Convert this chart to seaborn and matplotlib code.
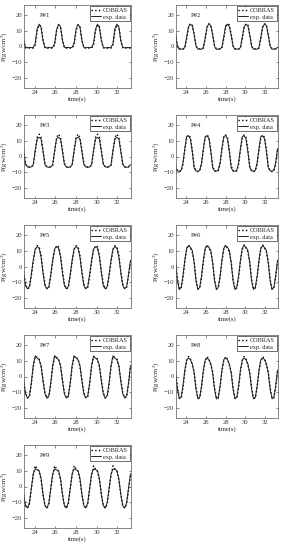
import matplotlib
matplotlib.use("Agg")
import matplotlib.pyplot as plt
import seaborn as sns

sns.set_theme(style="ticks")
plt.rcParams['font.family'] = ['Liberation Serif', 'DejaVu Serif']
plt.rcParams['mathtext.fontset'] = 'stix'

time_s = [22.91, 23.10, 23.29, 23.48, 23.66, 23.85, 24.04, 24.23, 24.42, 24.61,
          24.80, 24.99, 25.18, 25.37, 25.55, 25.74, 25.93, 26.12, 26.31, 26.50,
          26.69, 26.88, 27.07, 27.26, 27.44, 27.63, 27.82, 28.01, 28.20, 28.39,
          28.58, 28.77, 28.96, 29.15, 29.33, 29.52, 29.71, 29.90, 30.09, 30.28,
          30.47, 30.66, 30.85, 31.04, 31.22, 31.41, 31.60, 31.79, 31.98, 32.17,
          32.36, 32.55, 32.74, 32.93, 33.11, 33.30]

panel_names = ["P#1", "P#2", "P#3", "P#4", "P#5", "P#6", "P#7", "P#8", "P#9"]

p1_exp = [3.5, -0.5, -0.8, -0.5, -0.7, -0.6, 2.0, 11.0, 14.0, 12.0,
          3.5, -0.6, -0.9, -0.5, -0.8, -0.5, 1.8, 10.5, 14.0, 12.5,
          3.8, -0.5, -0.7, -0.6, -0.8, -0.5, 2.2, 11.0, 13.8, 12.2,
          3.5, -0.6, -0.8, -0.5, -0.7, -0.6, 2.0, 10.8, 14.0, 12.0,
          3.6, -0.5, -0.9, -0.6, -0.7, -0.5, 1.9, 11.2, 14.0, 12.3,
          3.5, -0.6, -0.8, -0.5, -0.7, -0.6]
p1_cob = [4.0, -0.8, -1.0, -1.0, -1.0, -1.0, 1.0, 10.0, 13.5, 12.5,
          4.0, -0.8, -1.0, -1.0, -1.0, -1.0, 1.0, 10.0, 13.5, 12.5,
          4.0, -0.8, -1.0, -1.0, -1.0, -1.0, 1.0, 10.0, 13.5, 12.5,
          4.0, -0.8, -1.0, -1.0, -1.0, -1.0, 1.0, 10.0, 13.5, 12.5,
          4.0, -0.8, -1.0, -1.0, -1.0, -1.0, 1.0, 10.0, 13.5, 12.5,
          4.0, -0.8, -1.0, -1.0, -1.0, -1.0]

p2_exp = [7.0, 0.0, -1.8, -1.5, -1.8, -0.5, 6.0, 12.5, 14.0, 13.0,
          7.5, 0.2, -1.7, -1.4, -1.9, -0.6, 5.5, 12.5, 14.2, 13.0,
          7.0, 0.0, -1.8, -1.6, -1.7, -0.4, 6.0, 13.0, 14.0, 12.5,
          7.0, 0.1, -1.8, -1.5, -1.8, -0.6, 6.0, 12.5, 14.0, 13.0,
          7.2, 0.0, -1.7, -1.5, -1.8, -0.5, 5.8, 12.5, 14.0, 13.0,
          7.0, 0.2, -1.8, -1.5, -1.7, -0.5]
p2_cob = [7.5, 0.5, -1.5, -1.5, -1.5, -1.0, 5.0, 12.0, 14.2, 13.5,
          7.5, 0.5, -1.5, -1.5, -1.5, -1.0, 5.0, 12.0, 14.2, 13.5,
          7.5, 0.5, -1.5, -1.5, -1.5, -1.0, 5.0, 12.0, 14.2, 13.5,
          7.5, 0.5, -1.5, -1.5, -1.5, -1.0, 5.0, 12.0, 14.2, 13.5,
          7.5, 0.5, -1.5, -1.5, -1.5, -1.0, 5.0, 12.0, 14.2, 13.5,
          7.5, 0.5, -1.5, -1.5, -1.5, -1.0]

p3_exp = [3.0, -5.0, -6.5, -6.8, -6.5, -5.0, 4.0, 11.0, 12.0, 11.0,
          3.0, -5.2, -6.6, -6.8, -6.6, -5.0, 4.0, 11.2, 12.0, 11.0,
          3.2, -5.0, -6.5, -6.9, -6.5, -5.1, 3.8, 11.0, 12.2, 10.8,
          3.0, -5.1, -6.6, -6.8, -6.6, -5.0, 4.0, 11.0, 12.0, 11.0,
          3.0, -5.0, -6.5, -6.8, -6.5, -5.0, 4.1, 11.1, 12.0, 11.0,
          3.0, -5.0, -6.6, -6.8, -6.5, -5.0]
p3_cob = [4.0, -4.5, -6.5, -6.5, -6.5, -5.5, 3.0, 12.0, 14.0, 12.0,
          4.0, -4.5, -6.5, -6.5, -6.5, -5.5, 3.0, 12.0, 14.0, 12.0,
          4.0, -4.5, -6.5, -6.5, -6.5, -5.5, 3.0, 12.0, 14.0, 12.0,
          4.0, -4.5, -6.5, -6.5, -6.5, -5.5, 3.0, 12.0, 14.0, 12.0,
          4.0, -4.5, -6.5, -6.5, -6.5, -5.5, 3.0, 12.0, 14.0, 12.0,
          4.0, -4.5, -6.5, -6.5, -6.5, -5.5]

p4_exp = [-7.0, -9.0, -9.2, -8.5, -4.0, 5.0, 12.5, 13.0, 11.0, 3.0,
          -7.2, -9.1, -9.3, -8.6, -4.2, 5.0, 12.6, 13.0, 11.2, 3.0,
          -7.0, -9.0, -9.2, -8.5, -4.0, 5.2, 12.5, 13.1, 11.0, 2.8,
          -7.1, -9.0, -9.3, -8.5, -4.1, 5.0, 12.5, 13.0, 11.0, 3.0,
          -7.0, -9.1, -9.2, -8.6, -4.0, 4.9, 12.4, 13.0, 11.1, 3.1,
          -7.0, -9.0, -9.2, -8.5, -4.0, 5.0]
p4_cob = [-6.0, -9.0, -9.5, -9.0, -5.0, 4.0, 12.0, 13.5, 12.0, 4.0,
          -6.0, -9.0, -9.5, -9.0, -5.0, 4.0, 12.0, 13.5, 12.0, 4.0,
          -6.0, -9.0, -9.5, -9.0, -5.0, 4.0, 12.0, 13.5, 12.0, 4.0,
          -6.0, -9.0, -9.5, -9.0, -5.0, 4.0, 12.0, 13.5, 12.0, 4.0,
          -6.0, -9.0, -9.5, -9.0, -5.0, 4.0, 12.0, 13.5, 12.0, 4.0,
          -6.0, -9.0, -9.5, -9.0, -5.0, 4.0]

p5_exp = [-4.0, -12.0, -14.0, -12.5, -5.0, 4.0, 11.0, 12.5, 11.5, 6.0,
          -4.2, -12.1, -14.1, -12.4, -5.0, 4.2, 11.0, 12.6, 11.4, 6.0,
          -4.0, -12.0, -14.0, -12.5, -5.1, 4.0, 11.1, 12.5, 11.5, 5.8,
          -4.1, -12.0, -14.0, -12.5, -5.0, 4.0, 11.0, 12.4, 11.5, 6.0,
          -4.0, -12.1, -14.0, -12.6, -5.0, 4.1, 11.0, 12.5, 11.4, 6.1,
          -4.0, -12.0, -14.0, -12.5, -5.0, 4.0]
p5_cob = [-3.0, -11.0, -14.0, -13.0, -6.0, 3.0, 10.5, 13.0, 12.5, 7.0,
          -3.0, -11.0, -14.0, -13.0, -6.0, 3.0, 10.5, 13.0, 12.5, 7.0,
          -3.0, -11.0, -14.0, -13.0, -6.0, 3.0, 10.5, 13.0, 12.5, 7.0,
          -3.0, -11.0, -14.0, -13.0, -6.0, 3.0, 10.5, 13.0, 12.5, 7.0,
          -3.0, -11.0, -14.0, -13.0, -6.0, 3.0, 10.5, 13.0, 12.5, 7.0,
          -3.0, -11.0, -14.0, -13.0, -6.0, 3.0]

p6_exp = [2.0, -9.0, -14.5, -13.0, -6.0, 4.0, 11.5, 13.0, 12.0, 10.0,
          2.2, -9.1, -14.4, -13.1, -6.0, 4.1, 11.5, 13.1, 12.0, 9.8,
          2.0, -9.0, -14.5, -13.0, -6.2, 4.0, 11.4, 13.0, 12.1, 10.0,
          1.9, -9.0, -14.5, -13.0, -6.0, 4.0, 11.5, 13.0, 12.0, 10.1,
          2.0, -9.1, -14.4, -13.0, -6.1, 4.0, 11.6, 13.0, 11.9, 10.0,
          2.0, -9.0, -14.5, -13.0, -6.0, 4.0]
p6_cob = [3.0, -8.0, -14.0, -13.5, -7.0, 3.0, 11.0, 13.5, 11.5, 9.0,
          3.0, -8.0, -14.0, -13.5, -7.0, 3.0, 11.0, 13.5, 11.5, 9.0,
          3.0, -8.0, -14.0, -13.5, -7.0, 3.0, 11.0, 13.5, 11.5, 9.0,
          3.0, -8.0, -14.0, -13.5, -7.0, 3.0, 11.0, 13.5, 11.5, 9.0,
          3.0, -8.0, -14.0, -13.5, -7.0, 3.0, 11.0, 13.5, 11.5, 9.0,
          3.0, -8.0, -14.0, -13.5, -7.0, 3.0]

p7_exp = [-3.0, -11.0, -13.5, -12.0, -4.0, 7.0, 13.0, 11.5, 10.5, 7.0,
          -3.1, -11.0, -13.6, -12.0, -4.1, 7.0, 13.1, 11.5, 10.4, 7.0,
          -3.0, -11.1, -13.5, -12.1, -4.0, 7.1, 13.0, 11.6, 10.5, 6.9,
          -3.0, -11.0, -13.5, -12.0, -4.0, 7.0, 12.9, 11.5, 10.5, 7.0,
          -3.1, -11.0, -13.6, -12.0, -4.1, 7.0, 13.0, 11.4, 10.5, 7.1,
          -3.0, -11.0, -13.5, -12.0, -4.0, 7.0]
p7_cob = [-2.0, -10.0, -13.5, -12.5, -5.0, 6.0, 12.5, 12.0, 11.0, 6.0,
          -2.0, -10.0, -13.5, -12.5, -5.0, 6.0, 12.5, 12.0, 11.0, 6.0,
          -2.0, -10.0, -13.5, -12.5, -5.0, 6.0, 12.5, 12.0, 11.0, 6.0,
          -2.0, -10.0, -13.5, -12.5, -5.0, 6.0, 12.5, 12.0, 11.0, 6.0,
          -2.0, -10.0, -13.5, -12.5, -5.0, 6.0, 12.5, 12.0, 11.0, 6.0,
          -2.0, -10.0, -13.5, -12.5, -5.0, 6.0]

p8_exp = [2.0, -8.0, -14.0, -13.0, -6.0, 4.0, 10.5, 11.5, 10.5, 8.0,
          2.1, -8.1, -14.0, -13.1, -6.0, 4.1, 10.5, 11.6, 10.4, 8.0,
          2.0, -8.0, -14.1, -13.0, -6.1, 4.0, 10.6, 11.5, 10.5, 7.9,
          2.0, -8.0, -14.0, -13.0, -6.0, 4.0, 10.5, 11.4, 10.5, 8.0,
          1.9, -8.1, -14.0, -13.1, -6.0, 4.0, 10.4, 11.5, 10.6, 8.0,
          2.0, -8.0, -14.0, -13.0, -6.0, 4.0]
p8_cob = [3.0, -7.0, -13.5, -13.5, -7.0, 3.0, 10.0, 12.5, 11.0, 7.0,
          3.0, -7.0, -13.5, -13.5, -7.0, 3.0, 10.0, 12.5, 11.0, 7.0,
          3.0, -7.0, -13.5, -13.5, -7.0, 3.0, 10.0, 12.5, 11.0, 7.0,
          3.0, -7.0, -13.5, -13.5, -7.0, 3.0, 10.0, 12.5, 11.0, 7.0,
          3.0, -7.0, -13.5, -13.5, -7.0, 3.0, 10.0, 12.5, 11.0, 7.0,
          3.0, -7.0, -13.5, -13.5, -7.0, 3.0]

p9_exp = [-5.0, -12.0, -13.5, -10.0, -1.0, 8.0, 11.0, 10.5, 10.0, 5.0,
          -5.1, -12.0, -13.6, -10.1, -1.0, 8.1, 11.0, 10.4, 10.0, 5.0,
          -5.0, -12.1, -13.5, -10.0, -1.1, 8.0, 11.1, 10.5, 9.9, 5.1,
          -5.0, -12.0, -13.5, -10.0, -1.0, 8.0, 11.0, 10.5, 10.0, 5.0,
          -5.1, -12.0, -13.6, -10.0, -1.0, 7.9, 11.0, 10.6, 10.0, 4.9,
          -5.0, -12.0, -13.5, -10.0, -1.0, 8.0]
p9_cob = [-5.0, -12.0, -13.5, -11.0, -2.0, 7.0, 13.0, 11.0, 9.5, 4.0,
          -5.0, -12.0, -13.5, -11.0, -2.0, 7.0, 13.0, 11.0, 9.5, 4.0,
          -5.0, -12.0, -13.5, -11.0, -2.0, 7.0, 13.0, 11.0, 9.5, 4.0,
          -5.0, -12.0, -13.5, -11.0, -2.0, 7.0, 13.0, 11.0, 9.5, 4.0,
          -5.0, -12.0, -13.5, -11.0, -2.0, 7.0, 13.0, 11.0, 9.5, 4.0,
          -5.0, -12.0, -13.5, -11.0, -2.0, 7.0]

exp_series = [p1_exp, p2_exp, p3_exp, p4_exp, p5_exp, p6_exp, p7_exp, p8_exp, p9_exp]
cob_series = [p1_cob, p2_cob, p3_cob, p4_cob, p5_cob, p6_cob, p7_cob, p8_cob, p9_cob]

x_ticks = [24, 26, 28, 30, 32]
y_ticks = [-20, -10, 0, 10, 20]

W, H = 287, 550
fig = plt.figure(figsize=(W / 100, H / 100), dpi=100)

col_x = [(24, 107), (176, 102)]
row_top = [5, 115, 225, 335, 445]
ax_h = 83
fs = 4.8

for i, name in enumerate(panel_names):
    r, c = divmod(i, 2)
    x0, w = col_x[c]
    top = row_top[r]
    ax = fig.add_axes([x0 / W, 1 - (top + ax_h) / H, w / W, ax_h / H])
    sns.lineplot(x=time_s, y=cob_series[i], ax=ax, color='black', linestyle=':',
                 linewidth=1.0, label='COBRAS')
    sns.lineplot(x=time_s, y=exp_series[i], ax=ax, color='#222222', linestyle='-',
                 linewidth=0.7, label='exp. data')
    ax.set_xlim(22.95, 33.35)
    ax.set_ylim(-26, 26)
    ax.set_xticks(x_ticks)
    ax.set_yticks(y_ticks)
    ax.tick_params(direction='in', length=1.8, width=0.4, labelsize=fs, pad=1.5,
                   top=True, right=True, colors='#333333')
    for sp in ax.spines.values():
        sp.set_linewidth(0.5)
        sp.set_color('#555555')
    ax.set_xlabel('time(s)', fontsize=fs, labelpad=1)
    ax.set_ylabel('P(gw/cm$^2$)', fontsize=fs, labelpad=1)
    ax.text(0.2, 0.87, name, transform=ax.transAxes, fontsize=fs, ha='center', va='center')
    leg = ax.legend(loc='upper right', fontsize=fs - 0.3, frameon=True, fancybox=False,
                    handlelength=1.6, handletextpad=0.3, borderpad=0.25, labelspacing=0.15,
                    borderaxespad=0.2)
    leg.get_frame().set_edgecolor('black')
    leg.get_frame().set_linewidth(0.5)

fig.savefig('out.png', dpi=100)
